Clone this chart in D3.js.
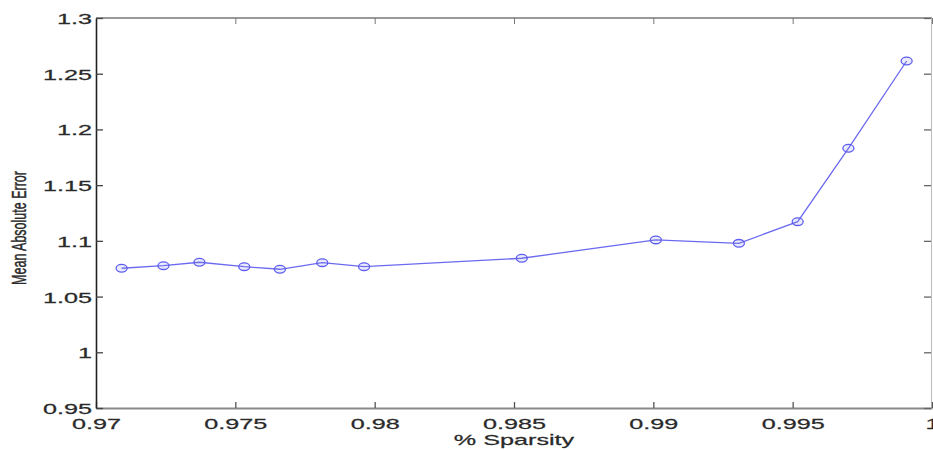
<!DOCTYPE html>
<html><head><meta charset="utf-8">
<script src="https://cdn.jsdelivr.net/npm/d3@7"></script>
<style>
html,body{margin:0;padding:0;background:#fff;}
svg{display:block;}
text{font-family:"Liberation Sans",Arial,Helvetica,sans-serif;}
</style></head>
<body>
<svg id="chart" width="933" height="450"></svg>
<script>
const sparsity = [0.97092, 0.97242, 0.97371, 0.97532, 0.97660, 0.97812, 0.97962, 0.98528, 0.99009, 0.99307, 0.99518, 0.99700, 0.99909];
const mae      = [1.0754, 1.0777, 1.0808, 1.0768, 1.0745, 1.0804, 1.0768, 1.0844, 1.1008, 1.0978, 1.1172, 1.1831, 1.2614];
const xTicks = [0.97, 0.975, 0.98, 0.985, 0.99, 0.995, 1];
const yTicks = [0.95, 1, 1.05, 1.1, 1.15, 1.2, 1.25, 1.3];
const xLabel = "% Sparsity";
const yLabel = "Mean Absolute Error";

const W = 933, H = 450;
const m = {left: 96, right: 1, top: 18, bottom: 42};
const svg = d3.select("#chart");
const x = d3.scaleLinear().domain([0.97, 1.0]).range([m.left, W - m.right]);
const y = d3.scaleLinear().domain([0.95, 1.3]).range([H - m.bottom, m.top]);
const fmt = d => String(+d.toFixed(3));
const SX = 1.68;

// frame
const x0 = x.range()[0], x1 = x.range()[1], y0 = y.range()[0], y1 = y.range()[1];
svg.append("line").attr("x1", x0).attr("x2", x1).attr("y1", y1).attr("y2", y1).attr("stroke", "#9a9a9a").attr("stroke-width", 2);
svg.append("line").attr("x1", x1 - 0.5).attr("x2", x1 - 0.5).attr("y1", y1).attr("y2", y0).attr("stroke", "#bbb").attr("stroke-width", 1);

// bottom axis
const gx = svg.append("g").attr("transform", `translate(0,${y0})`)
  .call(d3.axisBottom(x).tickValues(xTicks).tickFormat(fmt).tickSizeInner(-6).tickSizeOuter(0));
gx.select(".domain").attr("stroke", "#888").attr("stroke-width", 2);
gx.selectAll(".tick line").attr("stroke", "#555").attr("stroke-width", 1.3);
gx.selectAll(".tick text").attr("y", null).attr("dy", null)
  .attr("transform", "translate(0,21) scale(" + SX + ",1)")
  .attr("font-size", 15).attr("fill", "#2a2a2a").attr("stroke", "#2a2a2a").attr("stroke-width", 0.25)
  .attr("text-anchor", "middle");

// top ticks
svg.append("g").attr("transform", `translate(0,${y1})`)
  .call(d3.axisTop(x).tickValues(xTicks).tickFormat("").tickSizeInner(-6).tickSizeOuter(0))
  .call(g => g.select(".domain").remove())
  .call(g => g.selectAll(".tick line").attr("stroke", "#777"));

// left axis
const gy = svg.append("g").attr("transform", `translate(${x0},0)`)
  .call(d3.axisLeft(y).tickValues(yTicks).tickFormat(fmt).tickSizeInner(-7).tickSizeOuter(0));
gy.select(".domain").attr("stroke", "#222").attr("stroke-width", 1.6);
gy.selectAll(".tick line").attr("stroke", "#444").attr("stroke-width", 1.3);
gy.selectAll(".tick text").attr("x", null).attr("dy", null)
  .attr("transform", "translate(-4,5.5) scale(" + SX + ",1)")
  .attr("font-size", 15).attr("fill", "#2a2a2a").attr("stroke", "#2a2a2a").attr("stroke-width", 0.25)
  .attr("text-anchor", "end");

// right ticks
svg.append("g").attr("transform", `translate(${x1 - 1},0)`)
  .call(d3.axisRight(y).tickValues(yTicks).tickFormat("").tickSizeInner(-7).tickSizeOuter(0))
  .call(g => g.select(".domain").remove())
  .call(g => g.selectAll(".tick line").attr("stroke", "#666").attr("stroke-width", 1.3));

// axis labels
svg.append("text").attr("transform", `translate(514,445) scale(${SX},1)`)
  .attr("text-anchor", "middle").attr("font-size", 15).attr("fill", "#2a2a2a")
  .attr("stroke", "#2a2a2a").attr("stroke-width", 0.25).text(xLabel);
svg.append("text").attr("transform", `translate(26,228) scale(1.6,1) rotate(-90)`)
  .attr("text-anchor", "middle").attr("font-size", 12.5).attr("fill", "#2a2a2a")
  .attr("stroke", "#2a2a2a").attr("stroke-width", 0.3).text(yLabel);

// data
const pts = sparsity.map((s, i) => ({s, v: mae[i]}));
svg.append("path").datum(pts)
  .attr("fill", "none").attr("stroke", "#6a6af0").attr("stroke-width", 1.3)
  .attr("d", d3.line().x(d => x(d.s)).y(d => y(d.v)));
svg.selectAll("ellipse.mk").data(pts).join("ellipse").attr("class", "mk")
  .attr("cx", d => x(d.s)).attr("cy", d => y(d.v))
  .attr("rx", 5.5).attr("ry", 3.8)
  .attr("fill", "rgba(140,140,245,0.18)").attr("stroke", "#5c5cf0").attr("stroke-width", 1.3);
</script>
</body></html>
